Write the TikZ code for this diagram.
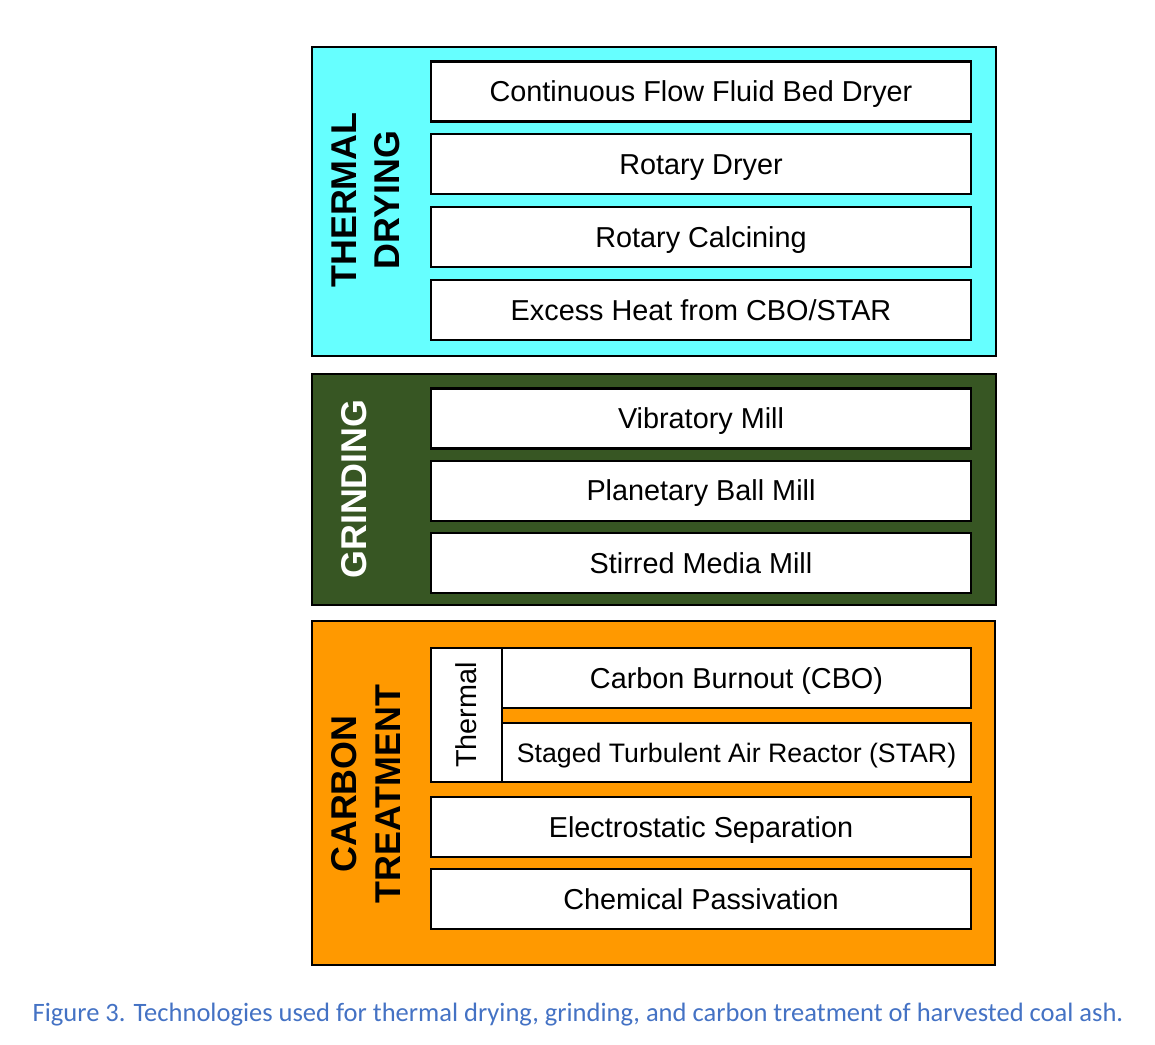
\documentclass[tikz,border=0pt]{standalone}
\usepackage{fontspec}
\setmainfont{Liberation Sans}
\newfontfamily\captionfont{Carlito}
\usepackage{tikz}
\usepackage{xcolor}
\usetikzlibrary{positioning}
\definecolor{dryingcyan}{HTML}{66FFFF}
\definecolor{grindgreen}{HTML}{375623}
\definecolor{carbonorange}{HTML}{FF9900}
\definecolor{captionblue}{HTML}{4472C4}
\tikzstyle{group} = [rectangle, draw=black, line width=1.2pt, inner sep=0pt]
\tikzstyle{tech} = [rectangle, minimum width=10.8cm, minimum height=1.2cm, text centered, text height=11.8pt, text depth=0pt, draw=black, fill=white, line width=1.2pt, inner sep=0pt]
\tikzstyle{grouplabel} = [rotate=90, align=center, font={\fontsize{20.4pt}{24.5pt}\selectfont\bfseries}]
\tikzset{
  font={\fontsize{16.4pt}{19pt}\selectfont}}

\begin{document}
\begin{tikzpicture}[x=0.02cm, y=-0.02cm, node distance = 0.2cm]
    \useasboundingbox (0,0) rectangle (1155,1044);

    % group frames
    \node (drying) [group, fill=dryingcyan, minimum width=13.68cm, minimum height=6.18cm] at (654,201.5) {};
    \node (grinding) [group, fill=grindgreen, minimum width=13.68cm, minimum height=4.62cm] at (654,489.5) {};
    \node (carbon) [group, fill=carbonorange, minimum width=13.66cm, minimum height=6.88cm] at (653.5,793) {};

    \node (dryinglabel) [grouplabel] at (366,200) {THERMAL\\DRYING};
    \node (grindinglabel) [grouplabel, text=white] at (354,489) {GRINDING};
    \node (carbonlabel) [grouplabel] at (366,794) {CARBON\\TREATMENT};

    % thermal drying
    \node (fluidbed) [tech] at (701,91.5) {Continuous Flow Fluid Bed Dryer};
    \node (rotdryer) [tech, below=0.215cm of fluidbed] {Rotary Dryer};
    \node (calcining) [tech, below=0.215cm of rotdryer] {Rotary Calcining};
    \node (excessheat) [tech, below=0.215cm of calcining] {Excess Heat from CBO/STAR};

    % grinding
    \node (vibratory) [tech] at (701,418.5) {Vibratory Mill};
    \node (planetary) [tech, below=of vibratory] {Planetary Ball Mill};
    \node (stirred) [tech, below=of planetary] {Stirred Media Mill};

    % carbon treatment
    \node (thermalcol) [tech, rotate=90, minimum width=2.68cm, minimum height=1.42cm] at (466.5,715) {Thermal};
    \node (cbo) [tech, minimum width=9.38cm] at (736.5,678) {Carbon Burnout (CBO)};
    \node (star) [tech, minimum width=9.38cm, minimum height=1.18cm, text height=10.9pt, font={\fontsize{15.2pt}{17pt}\selectfont}] at (736.5,752.5) {Staged Turbulent Air Reactor (STAR)};
    \node (electro) [tech] at (701,827) {Electrostatic Separation};
    \node (passivation) [tech, below=of electro] {Chemical Passivation};

    \node (caption) [font={\captionfont\fontsize{15.1pt}{18pt}\selectfont}, text=captionblue] at (578,1015) {Figure 3. Technologies used for thermal drying, grinding, and carbon treatment of harvested coal ash.};
\end{tikzpicture}
\end{document}
